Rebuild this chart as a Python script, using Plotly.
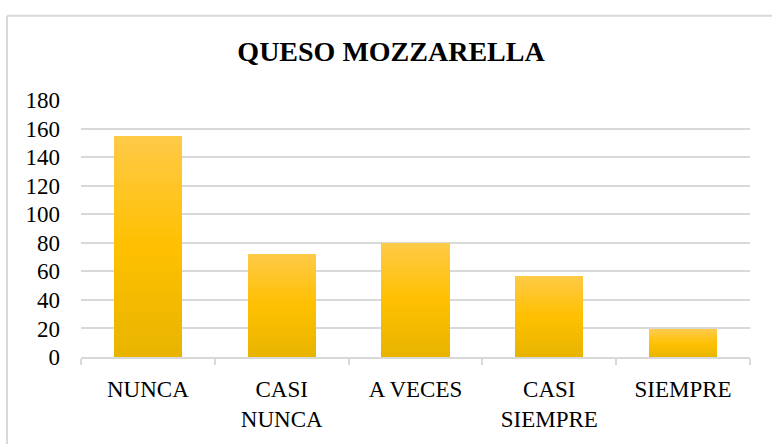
import plotly.graph_objects as go

categories = ["NUNCA", "CASI<br>NUNCA", "A VECES", "CASI<br>SIEMPRE", "SIEMPRE"]
values = [155, 72, 80, 57, 19]
y_ticks = [0, 20, 40, 60, 80, 100, 120, 140, 160, 180]
title_text = "QUESO MOZZARELLA"

# gradient look: top light -> middle -> bottom darker
top_c = (255, 202, 72)
mid_c = (255, 192, 0)
bot_c = (232, 180, 0)
N = 24

def lerp(a, b, t):
    return tuple(int(round(a[i] + (b[i] - a[i]) * t)) for i in range(3))

fig = go.Figure()
for k in range(N):
    t = (k + 0.5) / N  # 0 bottom -> 1 top
    if t < 0.5:
        c = lerp(bot_c, mid_c, t / 0.5)
    else:
        c = lerp(mid_c, top_c, (t - 0.5) / 0.5)
    fig.add_trace(go.Bar(
        x=categories,
        y=[v / N for v in values],
        marker=dict(color="rgb(%d,%d,%d)" % c, line=dict(width=0)),
        showlegend=False,
        hoverinfo="skip",
    ))

font_family = "Liberation Serif, Times New Roman, serif"

W, H = 772, 444
L, R, T, B = 81, 22, 100, 79
PW, PH = W - L - R, H - T - B

fig.update_layout(
    barmode="stack",
    bargap=0.49,
    width=W,
    height=H,
    margin=dict(l=L, r=R, t=T, b=B),
    paper_bgcolor="white",
    plot_bgcolor="white",
    font=dict(family=font_family, size=23, color="black"),
    title=dict(
        text="<b>" + title_text + "</b>",
        font=dict(family=font_family, size=28, color="black"),
        x=391 / W, xref="container", xanchor="center",
        y=1 - 51 / H, yref="container", yanchor="middle",
    ),
    xaxis=dict(
        showgrid=False,
        showline=True,
        linecolor="#d9d9d9",
        linewidth=1.5,
        ticks="outside",
        tickson="boundaries",
        ticklen=6,
        tickcolor="#d9d9d9",
        tickwidth=1.5,
        ticklabelstandoff=11,
        tickfont=dict(family=font_family, size=23, color="black"),
    ),
    yaxis=dict(
        range=[0, 180],
        tickvals=y_ticks,
        showgrid=True,
        gridcolor="#d9d9d9",
        gridwidth=1.5,
        zeroline=False,
        showline=False,
        ticks="",
        ticklabelstandoff=20,
        tickfont=dict(family=font_family, size=23, color="black"),
    ),
    shapes=[
        dict(type="line", xref="paper", yref="paper",
             x0=(7 - L) / PW, x1=(7 - L) / PW,
             y0=-(B + 60) / PH, y1=1 + (T - 13) / PH,
             line=dict(color="#d9d9d9", width=2), layer="below"),
        dict(type="line", xref="paper", yref="paper",
             x0=(7 - L) / PW, x1=(W + 60 - L) / PW,
             y0=1 + (T - 13) / PH, y1=1 + (T - 13) / PH,
             line=dict(color="#d9d9d9", width=2), layer="below"),
    ],
)

fig.write_html(
    "out.html",
    config={"displayModeBar": False},
    post_script="document.body.style.margin='0';document.body.style.overflow='hidden';",
)
